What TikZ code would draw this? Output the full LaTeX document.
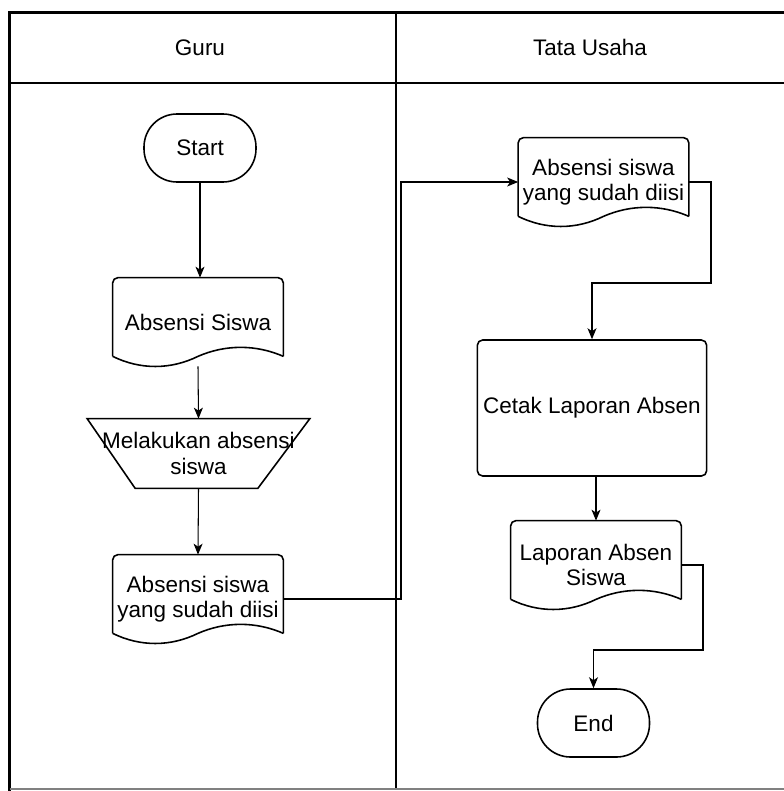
\documentclass[tikz,border=0pt]{standalone}
\usepackage{fontspec}
\setmainfont{Liberation Sans}
\usetikzlibrary{arrows.meta,calc}

\tikzset{
  flow/.style={-{Stealth[length=2.2mm,width=1.8mm,inset=0.6mm]}, line width=0.6pt},
  term/.style={draw, line width=0.9pt, rounded corners=0.66cm, minimum width=2.24cm, minimum height=1.36cm},
  doc/.style={minimum width=3.4cm, minimum height=1.76cm, inner sep=0pt, align=center},
  proc/.style={draw, line width=0.9pt, rounded corners=3pt, minimum width=4.52cm, minimum height=2.72cm},
  manual/.style={minimum width=4.44cm, minimum height=1.38cm, inner sep=0pt, align=center},
  lane/.style={line width=0.6pt}
}

% outline of a document box, wave at the bottom
\newcommand{\docoutline}[1]{%
  \draw[line width=0.9pt, rounded corners=3pt] ($(#1.south west)+(0,0.2)$) -- (#1.north west) -- (#1.north east) -- ($(#1.south east)+(0,0.2)$);
  \draw[line width=0.9pt] ($(#1.south east)+(0,0.2)$) .. controls +(-0.55,0.24) and +(0.55,0.24) .. ($(#1.south)+(0,0.2)$)
     .. controls +(-0.55,-0.27) and +(0.55,-0.27) .. ($(#1.south west)+(0,0.2)$);
}

\begin{document}
\begin{tikzpicture}[every node/.style={font=\fontsize{12.8}{14.5}\selectfont}]
\useasboundingbox (0,0) rectangle (15.68,-15.82);

% pool and lanes
\draw[line width=1.8pt] (0.19,-15.82) -- (0.19,-0.25) -- (15.8,-0.25);
\draw[lane] (0.19,-1.66) -- (15.8,-1.66);
\draw[lane] (7.92,-0.25) -- (7.92,-15.78);
\draw[lane, gray] (0.19,-15.78) -- (15.8,-15.78);

\node (guru) at (4.0,-0.95) {Guru};
\node (tu) at (11.8,-0.95) {Tata Usaha};

% Guru
\node[term] (start) at (4.0,-2.96) {Start};
\node[doc] (absen) at (3.96,-6.44) {Absensi Siswa};
\node[manual] (isi) at (3.97,-9.07) {Melakukan absensi\\siswa};
\node[doc] (diisi) at (3.96,-11.98) {Absensi siswa\\yang sudah diisi};

\docoutline{absen}
\docoutline{diisi}
\draw[line width=0.9pt] (isi.north west) -- (isi.north east) -- ($(isi.south east)+(-1.04,0)$) -- ($(isi.south west)+(0.96,0)$) -- cycle;

% Tata Usaha
\node[doc] (terima) at (12.07,-3.64) {Absensi siswa\\yang sudah diisi};
\node[proc] (cetak) at (11.84,-8.16) {Cetak Laporan Absen};
\node[doc] (lapor) at (11.92,-11.30) {Laporan Absen\\Siswa};
\node[term] (end) at (11.87,-14.46) {End};

\docoutline{terima}
\docoutline{lapor}

% bends
\coordinate (c1) at (8.02,-11.98);
\coordinate (c2) at (14.22,-5.66);
\coordinate (c3) at (14.06,-13.0);

\draw[flow] (start) -- (start |- absen.north);
\draw[flow] (absen.south) -- (isi.north);
\draw[flow] (isi.south) -- (diisi.north);
\draw[flow] (diisi.east) -- (c1) |- (terima.west);
\draw[flow] (terima.east) -| (c2) -| (cetak.north);
\draw[flow] (lapor.north |- cetak.south) -- (lapor.north);
\draw[flow] (lapor.east) -| (c3) -| (end.north);

\end{tikzpicture}
\end{document}
